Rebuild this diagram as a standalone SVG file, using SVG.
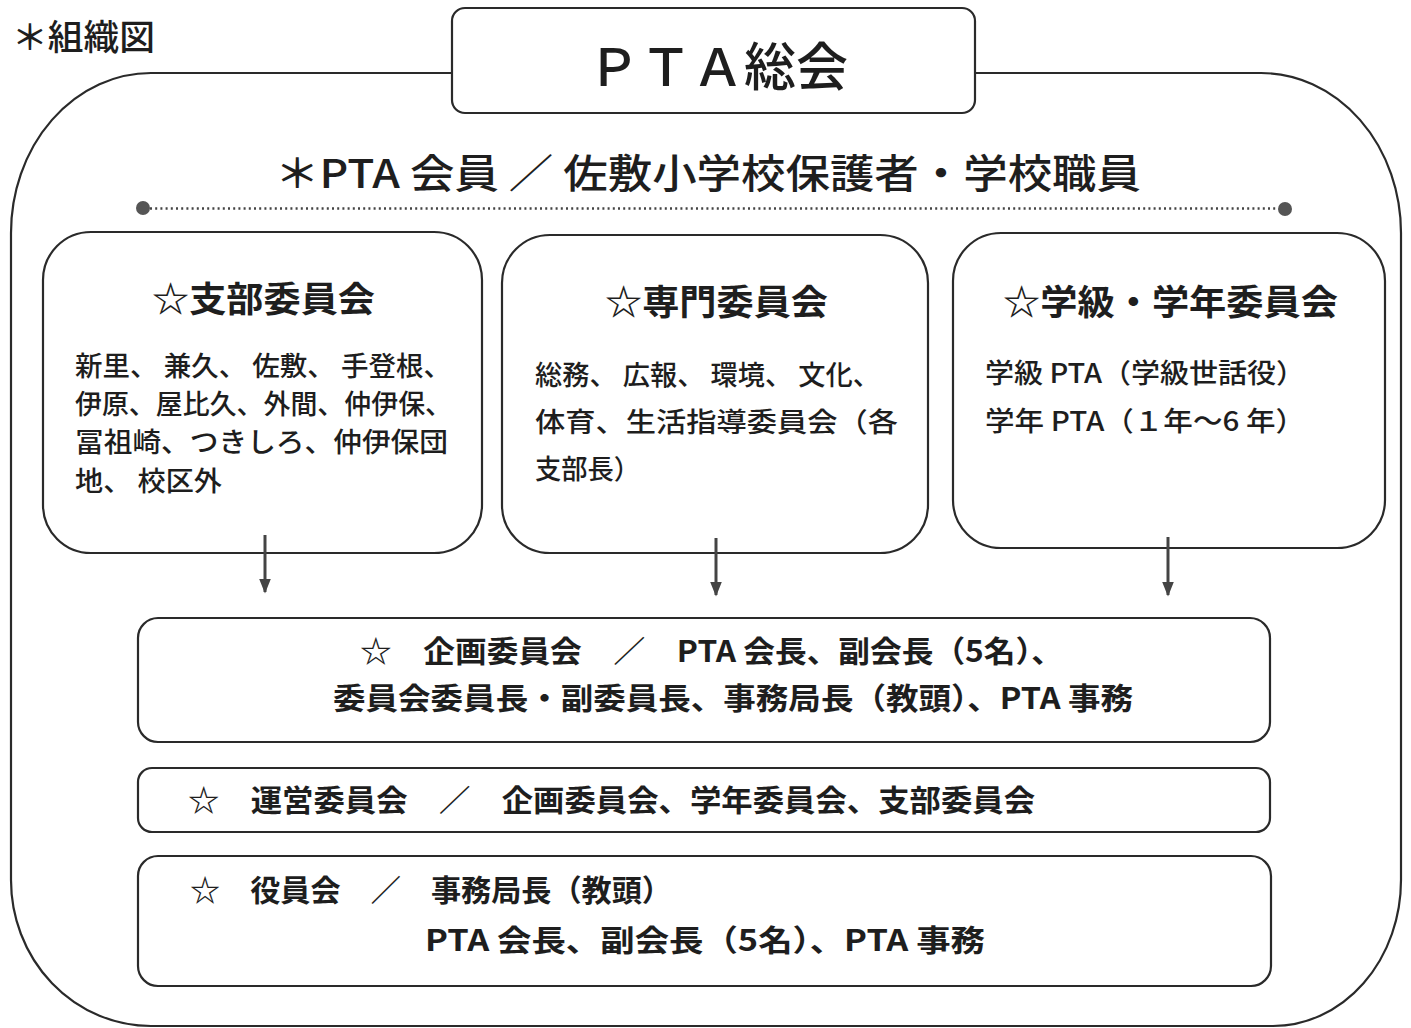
<svg xmlns="http://www.w3.org/2000/svg" width="1411" height="1028" viewBox="0 0 1411 1028">
<defs>
<style>
.ln{fill:none;stroke:#2a2a2a;stroke-width:2.2}
.bx{fill:#fff;stroke:#2a2a2a;stroke-width:2.2}
.t{font-family:"Noto Sans CJK JP","Liberation Sans",sans-serif;fill:#1e1e1e}
.h{font-size:35px;font-weight:bold}
.b{font-size:27px;font-weight:500}
.c{font-size:30px;font-weight:bold}
.arr{stroke:#444;stroke-width:3;fill:none}
</style>
<marker id="ah" viewBox="0 0 10 10" refX="9" refY="5" markerWidth="5" markerHeight="5" orient="auto" markerUnits="strokeWidth">
<path d="M0,1 L10,5 L0,9 Z" fill="#444"/>
</marker>
</defs>
<rect width="1411" height="1028" fill="#fff"/>
<text class="t" x="12" y="50" font-size="35" font-weight="500" textLength="143" lengthAdjust="spacingAndGlyphs">＊組織図</text>
<g id="frame">
<path class="ln" d="M151,73 H1261 A140,160 0 0 1 1401,233 V880 A128,146 0 0 1 1273,1026 H151 A140,146 0 0 1 11,880 V233 A140,160 0 0 1 151,73 Z"/>
</g>
<g id="soukai">
<rect class="bx" x="452" y="8" width="523" height="105" rx="13"/>
<text class="t" x="588" y="86" font-size="52" font-weight="500" textLength="260" lengthAdjust="spacingAndGlyphs">ＰＴＡ総会</text>
</g>
<g id="members">
<text class="t" x="275" y="188" font-size="40" font-weight="500" textLength="866" lengthAdjust="spacingAndGlyphs">＊PTA 会員 ／ 佐敷小学校保護者・学校職員</text>
<line x1="150" y1="208.5" x2="1278" y2="208.5" stroke="#444" stroke-width="2.5" stroke-dasharray="2 3.2"/>
<circle cx="143" cy="208" r="7" fill="#555"/>
<circle cx="1285" cy="209" r="7" fill="#555"/>
</g>
<g id="shibu">
<rect class="bx" x="43" y="232" width="439" height="321" rx="48"/>
<text class="t h" x="152" y="312" textLength="223" lengthAdjust="spacingAndGlyphs">☆支部委員会</text>
<text class="t b" x="75" y="376" textLength="376" lengthAdjust="spacingAndGlyphs">新里、 兼久、 佐敷、 手登根、</text>
<text class="t b" x="75" y="414" textLength="377" lengthAdjust="spacingAndGlyphs">伊原、屋比久、外間、仲伊保、</text>
<text class="t b" x="75" y="452" textLength="373" lengthAdjust="spacingAndGlyphs">冨祖崎、つきしろ、仲伊保団</text>
<text class="t b" x="75" y="491" textLength="147" lengthAdjust="spacingAndGlyphs">地、 校区外</text>
</g>
<g id="senmon">
<rect class="bx" x="502" y="235" width="426" height="318" rx="48"/>
<text class="t h" x="605" y="315" textLength="223" lengthAdjust="spacingAndGlyphs">☆専門委員会</text>
<text class="t b" x="535" y="385" textLength="345" lengthAdjust="spacingAndGlyphs">総務、 広報、 環境、 文化、</text>
<text class="t b" x="535" y="432" textLength="363" lengthAdjust="spacingAndGlyphs">体育、生活指導委員会（各</text>
<text class="t b" x="535" y="479" textLength="105" lengthAdjust="spacingAndGlyphs">支部長）</text>
</g>
<g id="gakkyu">
<rect class="bx" x="953" y="233" width="432" height="315" rx="48"/>
<text class="t h" x="1003" y="315" textLength="335" lengthAdjust="spacingAndGlyphs">☆学級・学年委員会</text>
<text class="t b" x="985" y="383" textLength="320" lengthAdjust="spacingAndGlyphs">学級 PTA（学級世話役）</text>
<text class="t b" x="985" y="431" textLength="320" lengthAdjust="spacingAndGlyphs">学年 PTA（１年～6 年）</text>
</g>
<g id="connectors">
<line class="arr" x1="265" y1="535" x2="265" y2="592" marker-end="url(#ah)"/>
<line class="arr" x1="716" y1="538" x2="716" y2="595" marker-end="url(#ah)"/>
<line class="arr" x1="1168" y1="537" x2="1168" y2="595" marker-end="url(#ah)"/>
</g>
<g id="kikaku">
<rect class="bx" x="138" y="618" width="1132" height="124" rx="20"/>
<text class="t c" x="360" y="662" textLength="703" lengthAdjust="spacingAndGlyphs">☆　企画委員会　／　PTA 会長、副会長（5名）、</text>
<text class="t c" x="333" y="709" textLength="800" lengthAdjust="spacingAndGlyphs">委員会委員長・副委員長、事務局長（教頭）、PTA 事務</text>
</g>
<g id="unei">
<rect class="bx" x="138" y="768" width="1132" height="64" rx="14"/>
<text class="t c" x="188" y="811" textLength="847" lengthAdjust="spacingAndGlyphs">☆　運営委員会　／　企画委員会、学年委員会、支部委員会</text>
</g>
<g id="yakuin">
<rect class="bx" x="138" y="856" width="1133" height="130" rx="20"/>
<text class="t c" x="190" y="901" textLength="482" lengthAdjust="spacingAndGlyphs">☆　役員会　／　事務局長（教頭）</text>
<text class="t c" x="425" y="951" textLength="560" lengthAdjust="spacingAndGlyphs">PTA 会長、副会長（5名）、PTA 事務</text>
</g>
</svg>
